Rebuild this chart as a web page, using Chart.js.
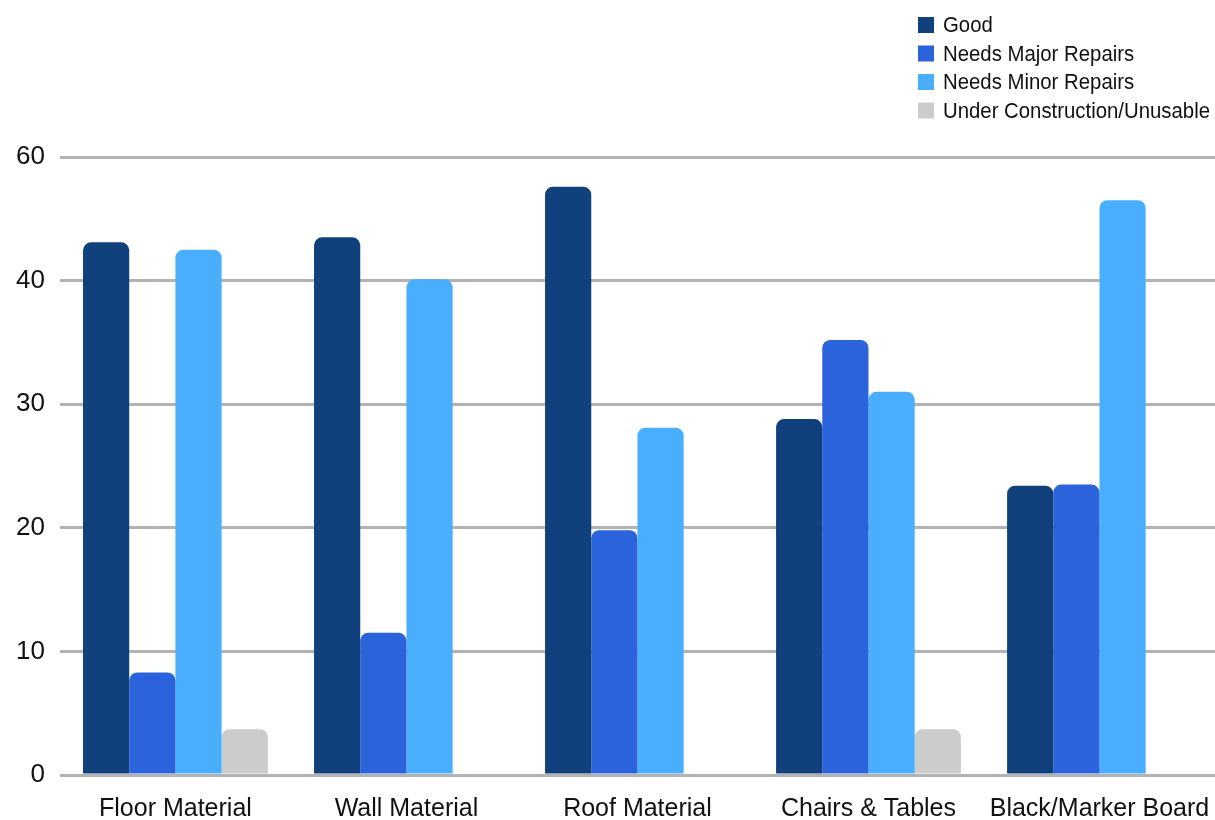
<!DOCTYPE html>
<html>
<head>
<meta charset="utf-8">
<script src="https://cdn.jsdelivr.net/npm/chart.js@4"></script>
<style>
  html, body { margin: 0; padding: 0; background: #fff; }
  #wrap { width: 1215px; height: 820px; }
</style>
</head>
<body>
<div id="wrap"><canvas id="myChart"></canvas></div>
<script>
const categories = ["Floor Material", "Wall Material", "Roof Material", "Chairs & Tables", "Black/Marker Board"];
const good = [43.1, 43.5, 47.6, 28.8, 23.4];
const majorRepairs = [8.3, 11.5, 19.8, 35.2, 23.5];
const minorRepairs = [42.5, 40.1, 28.1, 31.0, 46.5];
const unusable = [3.7, null, null, 3.7, null];
// the original chart labels its top gridline "60"
const yTickLabels = ["0", "10", "20", "30", "40", "60"];

const colors = ["#10417c", "#2a63dc", "#4aaeff", "#cccccc"];

// vertical legend in the top right corner, narrow text
const cornerLegend = {
  id: "cornerLegend",
  afterDraw(chart) {
    const c = chart.ctx;
    c.save();
    c.font = '22px "Liberation Sans", Arial, sans-serif';
    c.textBaseline = "middle";
    const names = chart.data.datasets.map((d) => d.label);
    const widest = Math.max(...names.map((n) => c.measureText(n).width));
    const squeeze = 267 / widest;
    chart.data.datasets.forEach((ds, i) => {
      const y = 25 + i * 28.5;
      c.fillStyle = ds.backgroundColor;
      c.fillRect(918, y - 8, 16, 16);
      c.save();
      c.translate(943, y + 1);
      c.scale(squeeze, 1);
      c.fillStyle = "#111";
      c.fillText(ds.label, 0, 0);
      c.restore();
    });
    c.restore();
  },
};

const ctx = document.getElementById("myChart");

new Chart(ctx, {
  type: "bar",
  data: {
    labels: categories,
    datasets: [
      { label: "Good", data: good, backgroundColor: colors[0] },
      { label: "Needs Major Repairs", data: majorRepairs, backgroundColor: colors[1] },
      { label: "Needs Minor Repairs", data: minorRepairs, backgroundColor: colors[2] },
      { label: "Under Construction/Unusable", data: unusable, backgroundColor: colors[3] },
    ],
  },
  plugins: [cornerLegend],
  options: {
    responsive: true,
    maintainAspectRatio: false,
    animation: false,
    layout: {
      padding: { top: 157, left: 1, right: 0, bottom: 0 },
    },
    datasets: {
      bar: {
        categoryPercentage: 0.8,
        barPercentage: 1.0,
        borderRadius: { topLeft: 8, topRight: 8 },
        borderSkipped: "bottom",
      },
    },
    plugins: {
      legend: { display: false },
      tooltip: { enabled: false },
    },
    scales: {
      x: {
        grid: { display: false },
        border: { display: false },
        afterFit(scale) {
          scale.height = 45;
          scale.paddingLeft = 0;
          scale.paddingRight = 0;
        },
        ticks: {
          color: "#111",
          padding: 11,
          autoSkip: false,
          maxRotation: 0,
          font: { family: '"Liberation Sans", Arial, sans-serif', size: 25 },
        },
      },
      y: {
        min: 0,
        max: 50,
        border: { display: false },
        grid: { color: "#b3b3b3", lineWidth: 3, drawTicks: false },
        ticks: {
          stepSize: 10,
          padding: 15,
          color: "#111",
          font: { family: '"Liberation Sans", Arial, sans-serif', size: 26 },
          callback: (v, i) => yTickLabels[i],
        },
      },
    },
  },
});
</script>
</body>
</html>
